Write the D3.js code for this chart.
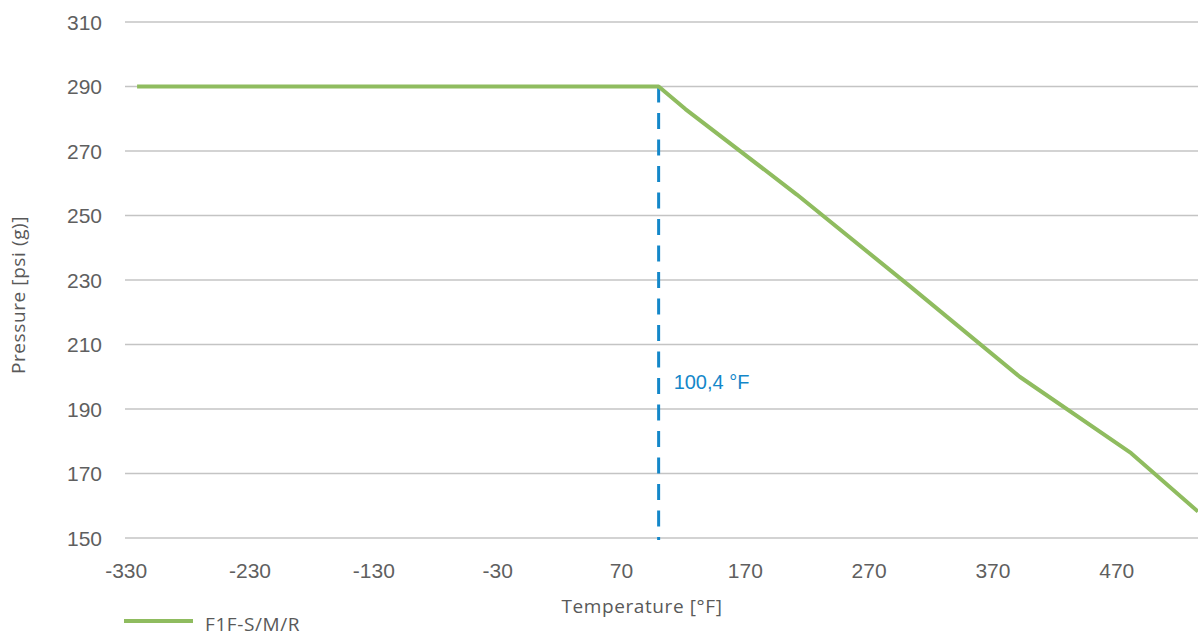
<!DOCTYPE html>
<html>
<head>
<meta charset="utf-8">
<script src="https://cdn.jsdelivr.net/npm/d3@7/dist/d3.min.js"></script>
<style>
  body { margin: 0; background: #fff; }
  .tick text { font-family: "Liberation Sans", Arial, sans-serif; font-size: 21px; fill: #5f5f5f; }
  .title { font-family: "Open Sans", "Noto Sans", sans-serif; font-size: 19px; fill: #595959; letter-spacing: 0.6px; }
</style>
</head>
<body>
<div id="chart"></div>
<script>
// temperature [°F] / pressure [psi (g)]
var temps     = [-320.8, 100.4, 122, 212, 302, 392, 482, 536];
var pressures = [290, 290, 283, 256.5, 228.5, 200, 176.3, 158.2];
var xTicks = [-330, -230, -130, -30, 70, 170, 270, 370, 470];
var yTicks = [150, 170, 190, 210, 230, 250, 270, 290, 310];
var markTemp = 100.4;
var markLabel = "100,4 °F";
var seriesName = "F1F-S/M/R";

var W = 1198, H = 636;
var x = d3.scaleLinear().domain([-330, 536]).range([125.7, 1198]);
var y = d3.scaleLinear().domain([150, 310]).range([538, 22]);

var svg = d3.select("#chart").append("svg")
    .attr("width", W)
    .attr("height", H);

// gridlines
svg.append("g")
  .selectAll("line")
  .data(yTicks)
  .enter()
  .append("line")
  .attr("x1", 125).attr("x2", W)
  .attr("y1", function (d) { return y(d); })
  .attr("y2", function (d) { return y(d); })
  .attr("stroke", "#c4c4c4")
  .attr("stroke-width", 1.5);

// plain hyphen for negatives, like the original
var fmt = function (d) { return String(d); };

// y axis labels
var yAxis = d3.axisLeft(y).tickValues(yTicks).tickFormat(fmt).tickSize(0).tickPadding(0);
svg.append("g")
  .attr("transform", "translate(102,0)")
  .call(yAxis)
  .call(function (g) { g.select(".domain").remove(); })
  .selectAll("text").attr("dy", "0.35em");

// x axis labels
var xAxis = d3.axisBottom(x).tickValues(xTicks).tickFormat(fmt).tickSize(0).tickPadding(0);
svg.append("g")
  .attr("transform", "translate(0,563)")
  .call(xAxis)
  .call(function (g) { g.select(".domain").remove(); })
  .selectAll("text").attr("dy", "0.71em");

// dashed marker line
svg.append("line")
  .attr("x1", x(markTemp)).attr("x2", x(markTemp))
  .attr("y1", y(290)).attr("y2", y(150) + 2)
  .attr("stroke", "#1487c9")
  .attr("stroke-width", 3)
  .attr("stroke-dasharray", "16,10.5");

svg.append("text")
  .attr("x", x(markTemp) + 15)
  .attr("y", 382)
  .attr("dy", "0.35em")
  .style("font-family", "Liberation Sans, Arial, sans-serif")
  .style("font-size", "20px")
  .style("fill", "#1487c9")
  .text(markLabel);

// series line
var line = d3.line()
  .x(function (d) { return x(d[0]); })
  .y(function (d) { return y(d[1]); });

svg.append("path")
  .datum(temps.map(function (t, i) { return [t, pressures[i]]; }))
  .attr("d", line)
  .attr("fill", "none")
  .attr("stroke", "#8fbc5f")
  .attr("stroke-width", 4)
  .attr("stroke-linejoin", "round");

// axis titles
svg.append("text")
  .attr("class", "title")
  .attr("text-anchor", "middle")
  .attr("x", 642)
  .attr("y", 613)
  .text("Temperature [°F]");

svg.append("text")
  .attr("class", "title")
  .attr("text-anchor", "middle")
  .attr("transform", "translate(25,295) rotate(-90)")
  .text("Pressure [psi (g)]");

// legend
svg.append("line")
  .attr("x1", 124).attr("x2", 193)
  .attr("y1", 621).attr("y2", 621)
  .attr("stroke", "#8fbc5f")
  .attr("stroke-width", 4);

svg.append("text")
  .attr("class", "title")
  .attr("x", 205)
  .attr("y", 631)
  .text(seriesName);
</script>
</body>
</html>
